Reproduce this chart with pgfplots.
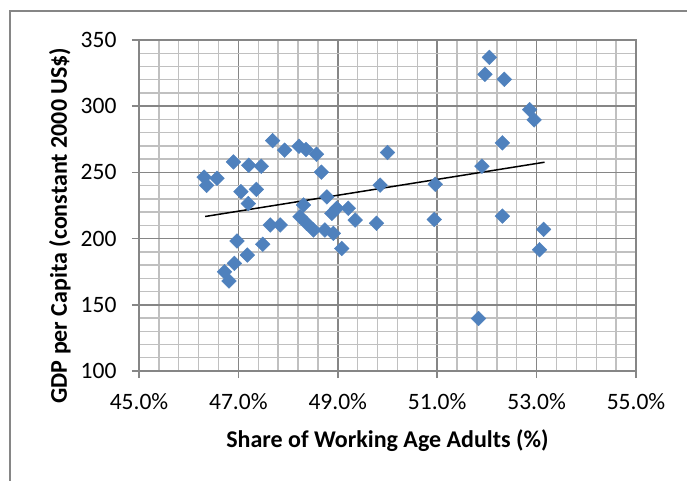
\documentclass[border=0pt]{standalone}
\usepackage{fontspec}
\setmainfont{Carlito}
\usepackage{pgfplots}
\pgfplotsset{compat=1.18}
\definecolor{gridmajor}{RGB}{134,134,134}
\definecolor{gridminor}{RGB}{192,192,192}
\definecolor{markblue}{RGB}{79,129,189}

\begin{document}
\begin{tikzpicture}[x=1pt,y=1pt]
\begin{axis}[
  scale only axis, width=497pt, height=331pt,
  anchor=south west, at={(139pt,-371pt)},
  xmin=45, xmax=55, ymin=100, ymax=350,
  xtick={45,47,...,55}, ytick={100,150,...,350},
  minor x tick num=4, minor y tick num=4,
  grid=both,
  major grid style={gridmajor, line width=1.6pt},
  minor grid style={gridminor, line width=1.4pt},
  axis line style={gridmajor, line width=1.6pt},
  tick pos=left, tick align=outside,
  major tick length=7pt, minor tick length=0pt,
  major tick style={gridmajor, line width=1.6pt},
  /pgf/number format/assume math mode=true,
  tick label style={font=\fontsize{23.5}{27}\selectfont},
  xticklabel style={yshift=-12pt},
  yticklabel style={xshift=-12pt},
  xticklabel={\pgfmathprintnumber[fixed,fixed zerofill,precision=1]{\tick}\%},
  xlabel={Share of Working Age Adults (\%)},
  ylabel={GDP per Capita (constant 2000 US\$)},
  every axis x label/.style={at={(axis description cs:0.5,-0.211)}, anchor=center,
    font=\bfseries\fontsize{24}{28}\selectfont},
  every axis y label/.style={at={(axis description cs:-0.159,0.439)}, rotate=90, anchor=center,
    font=\bfseries\fontsize{24}{28}\selectfont},
]
% scatter points
\addplot[only marks, mark=square*, mark size=5.2pt,
  mark options={rotate=45, fill=markblue, draw=markblue}]
  coordinates {
  (46.31,246.4) (46.36,240.2) (46.57,245.6) (46.90,257.9) (47.21,255.4)
  (47.46,254.7) (47.05,235.4) (47.36,237.2) (47.20,226.5) (47.69,274.0)
  (47.93,266.8) (48.22,269.8) (48.36,267.3) (48.57,263.7) (48.67,250.2)
  (50.00,265.0) (48.78,231.5) (48.31,225.4) (49.85,240.4) (50.96,241.1)
  (51.90,254.7) (52.05,336.9) (51.96,324.1) (52.35,320.3) (52.86,297.4)
  (52.95,289.6) (52.31,272.3) (52.31,217.0) (53.14,207.0) (53.06,191.6)
  (50.94,214.4) (51.83,139.7) (49.78,211.6) (49.35,214.0) (49.21,222.9)
  (48.98,222.9) (48.88,219.1) (48.91,204.0) (49.08,192.5) (48.74,206.5)
  (48.51,206.5) (48.37,211.6) (48.24,216.5) (47.64,210.3) (47.84,210.3)
  (46.97,198.2) (47.49,195.7) (47.18,187.6) (46.92,181.3) (46.72,175.0)
  (46.81,168.0)
  };
% linear trendline
\addplot[black, line width=1.5pt] coordinates {(46.33,216.7) (53.16,257.7)};
\end{axis}
\draw[gridmajor, line width=1.5pt] (10pt,-11pt) rectangle (720pt,-520pt);
\pgfresetboundingbox
\useasboundingbox (0pt,0pt) rectangle (687pt,-480pt);
\end{tikzpicture}
\end{document}
